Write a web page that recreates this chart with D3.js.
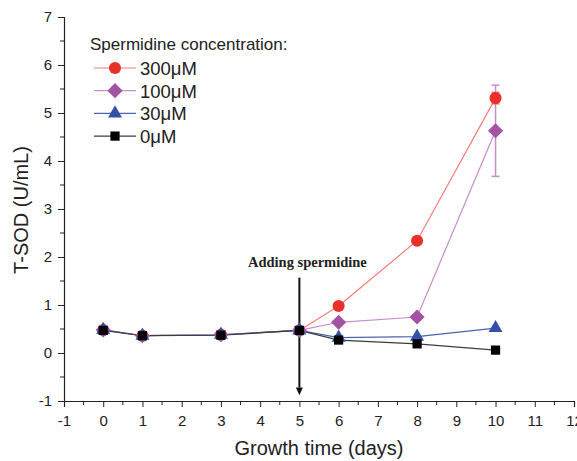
<!DOCTYPE html>
<html>
<head>
<meta charset="utf-8">
<script src="https://cdn.jsdelivr.net/npm/d3@7"></script>
<style>
  body { margin: 0; background: #fff; }
  text { font-family: "Liberation Sans", Arial, sans-serif; fill: #222; }
</style>
</head>
<body>
<div id="chart-container"></div>
<script>
const days = [0, 1, 3, 5, 6, 8, 10];
const sod300 = [0.48, 0.36, 0.38, 0.47, 0.98, 2.34, 5.31];
const err300 = [0, 0, 0, 0, 0, 0, 0.12];
const sod100 = [0.48, 0.36, 0.38, 0.47, 0.64, 0.75, 4.63];
const err100 = [0, 0, 0, 0, 0, 0, 0.95];
const sod30 = [0.48, 0.36, 0.38, 0.47, 0.32, 0.34, 0.52];
const sod0 = [0.47, 0.36, 0.37, 0.47, 0.27, 0.19, 0.06];
const xTicks = d3.range(-1, 13);
const yTicks = d3.range(-1, 8);

// diamond drawn as a rotated square
const diamond = {
  draw(ctx, size) {
    const r = Math.sqrt(size / 2);
    ctx.moveTo(0, -r); ctx.lineTo(r, 0); ctx.lineTo(0, r); ctx.lineTo(-r, 0); ctx.closePath();
  }
};

const series = [
  { name: "300μM", values: sod300, err: err300, line: "#f67b78", fill: "#ea3129", shape: d3.symbolCircle, size: 115 },
  { name: "100μM", values: sod100, err: err100, line: "#c98dcb", fill: "#a453a2", shape: diamond, size: 115 },
  { name: "30μM", values: sod30, err: null, line: "#4a64b0", fill: "#3451a6", shape: d3.symbolTriangle, size: 85 },
  { name: "0μM", values: sod0, err: null, line: "#3c3c3c", fill: "#000", shape: d3.symbolSquare, size: 85 }
];

const svgWidth = 577, svgHeight = 461,
    margin = { top: 17, left: 64 },
    width = 510, height = 384;

const svg = d3.select("#chart-container").append("svg")
    .attr("width", svgWidth)
    .attr("height", svgHeight);
const g = svg.append("g")
    .attr("transform", `translate(${margin.left},${margin.top})`);

const x = d3.scaleLinear().domain([-1, 12]).range([0, width]);
const y = d3.scaleLinear().domain([-1, 7]).range([height, 0]);

const fmt = d => String(d).replace("−", "-");

// axes
const xAxis = g.append("g")
    .attr("transform", `translate(0,${height})`)
    .call(d3.axisBottom(x).tickValues(xTicks).tickFormat(fmt).tickSize(6).tickPadding(8));
xAxis.append("g").selectAll("line")
    .data(d3.range(-0.5, 12, 1))
    .join("line")
    .attr("x1", d => x(d)).attr("x2", d => x(d))
    .attr("y1", 0).attr("y2", 4)
    .attr("stroke", "#222");
const yAxis = g.append("g")
    .call(d3.axisLeft(y).tickValues(yTicks).tickFormat(fmt).tickSize(6).tickPadding(6));
yAxis.append("g").selectAll("line")
    .data(d3.range(-0.5, 7, 1))
    .join("line")
    .attr("y1", d => y(d)).attr("y2", d => y(d))
    .attr("x1", 0).attr("x2", -4)
    .attr("stroke", "#222");
g.selectAll(".domain").attr("stroke", "#222").attr("stroke-width", 1.2);
g.selectAll(".tick line").attr("stroke", "#222");
g.selectAll(".tick text").style("font-size", "15px").attr("fill", "#222");

// axis labels
svg.append("text")
    .attr("x", 319).attr("y", 455)
    .attr("text-anchor", "middle")
    .style("font-size", "20px")
    .text("Growth time (days)");
svg.append("text")
    .attr("transform", "translate(28,210) rotate(-90)")
    .attr("text-anchor", "middle")
    .style("font-size", "20px")
    .text("T-SOD (U/mL)");

// annotation
g.append("text")
    .attr("x", x(5) + 8).attr("y", y(1.79))
    .attr("text-anchor", "middle")
    .style("font-family", "'Liberation Serif', 'Times New Roman', serif")
    .style("font-weight", "bold")
    .style("font-size", "14.5px")
    .attr("fill", "#111")
    .text("Adding spermidine");
g.append("line")
    .attr("x1", x(5)).attr("x2", x(5))
    .attr("y1", y(1.57)).attr("y2", y(-0.72))
    .attr("stroke", "#111").attr("stroke-width", 2);
g.append("path")
    .attr("d", `M${x(5) - 3.5},${y(-0.72)} L${x(5) + 3.5},${y(-0.72)} L${x(5)},${y(-0.88)} Z`)
    .attr("fill", "#111");

// error bars
series.forEach(s => {
  if (!s.err) return;
  const eg = g.append("g");
  days.forEach((d, i) => {
    if (!s.err[i]) return;
    const cx = x(d), top = y(s.values[i] + s.err[i]), bot = y(s.values[i] - s.err[i]);
    eg.append("line").attr("x1", cx).attr("x2", cx).attr("y1", top).attr("y2", bot)
      .attr("stroke", s.line).attr("stroke-width", 1.5);
    [top, bot].forEach(v => eg.append("line")
      .attr("x1", cx - 4).attr("x2", cx + 4).attr("y1", v).attr("y2", v)
      .attr("stroke", s.line).attr("stroke-width", 1.5));
  });
});

// lines and markers
const line = d3.line().x((d, i) => x(days[i])).y(d => y(d));
series.forEach(s => {
  g.append("path")
      .datum(s.values)
      .attr("d", line)
      .attr("fill", "none")
      .attr("stroke", s.line)
      .attr("stroke-width", 1.2);
});
series.forEach(s => {
  g.append("g").selectAll("path")
      .data(s.values)
      .join("path")
      .attr("transform", (d, i) => `translate(${x(days[i])},${y(d)})`)
      .attr("d", d3.symbol().type(s.shape).size(s.size))
      .attr("fill", s.fill);
});

// legend
const legend = svg.append("g").attr("transform", "translate(90,0)");
legend.append("text")
    .attr("x", 0).attr("y", 50)
    .style("font-size", "17px")
    .text("Spermidine concentration:");
series.forEach((s, i) => {
  const ly = 68 + i * 22.7;
  legend.append("line")
      .attr("x1", 4).attr("x2", 46).attr("y1", ly).attr("y2", ly)
      .attr("stroke", s.line).attr("stroke-width", 1.2);
  legend.append("path")
      .attr("transform", `translate(25,${ly})`)
      .attr("d", d3.symbol().type(s.shape).size(s.size))
      .attr("fill", s.fill);
  legend.append("text")
      .attr("x", 50).attr("y", ly + 7)
      .style("font-size", "18.5px")
      .text(s.name);
});
</script>
</body>
</html>
